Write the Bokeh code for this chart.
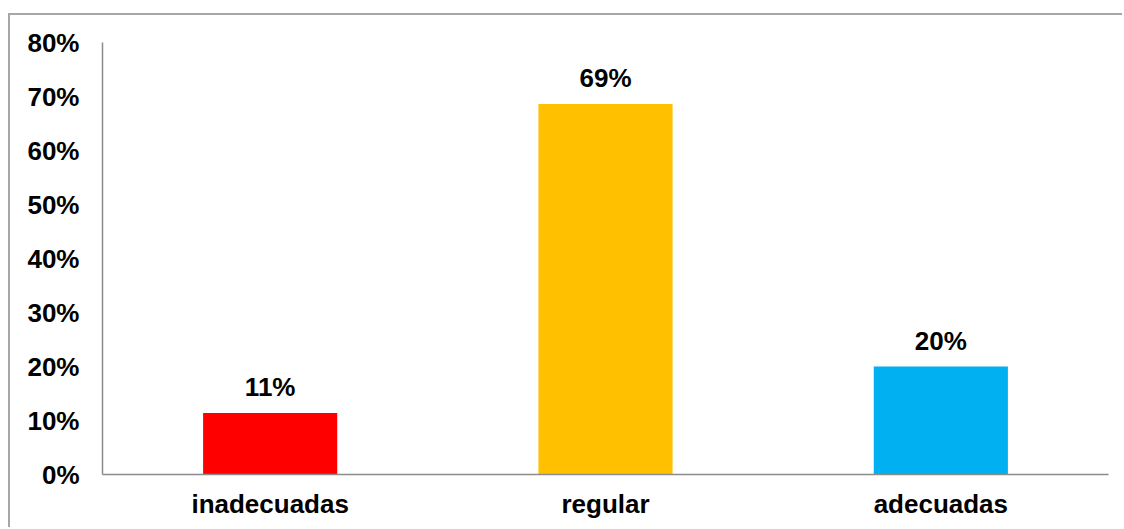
from bokeh.plotting import figure
from bokeh.models import ColumnDataSource, FixedTicker, PrintfTickFormatter
from bokeh.core.properties import value
from bokeh.embed import file_html
from bokeh.resources import INLINE

categories = ["inadecuadas", "regular", "adecuadas"]
values = [11.4, 68.6, 20.0]
labels = ["11%", "69%", "20%"]
colors = ["#FF0000", "#FFC000", "#00B0F0"]
y_ticks = [0, 10, 20, 30, 40, 50, 60, 70, 80]

FONT = "Liberation Sans"

src = ColumnDataSource(dict(cat=categories, val=values, lab=labels, col=colors))

p = figure(
    x_range=categories, y_range=(0, 80),
    width=1114, height=514,
    output_backend="svg", toolbar_location=None,
    min_border_left=92, min_border_right=16, min_border_top=27, min_border_bottom=55,
    margin=(13, 0, 0, 8),
)
p.styles = {"border-top": "2px solid #a6a6a6", "border-left": "2px solid #a6a6a6"}

p.vbar(x="cat", top="val", width=0.4, color="col", source=src, line_color=None)
p.text(x="cat", y="val", text="lab", source=src, text_align="center",
       text_baseline="alphabetic", y_offset=-26,
       text_font=value(FONT), text_font_style="bold", text_font_size="26px",
       text_color="black")

p.outline_line_color = None
p.grid.grid_line_color = None
p.background_fill_color = "white"
p.border_fill_color = "white"

ya = p.yaxis[0]
ya.ticker = FixedTicker(ticks=y_ticks)
ya.formatter = PrintfTickFormatter(format="%d%%")
ya.major_tick_line_color = None
ya.minor_tick_line_color = None
ya.major_tick_out = 0
ya.major_tick_in = 0
ya.major_label_standoff = 23
ya.axis_line_color = "#8c8c8c"
ya.axis_line_width = 1.5
ya.major_label_text_font = FONT
ya.major_label_text_font_style = "bold"
ya.major_label_text_font_size = "26px"
ya.major_label_text_color = "black"

xa = p.xaxis[0]
xa.major_tick_line_color = None
xa.minor_tick_line_color = None
xa.major_tick_out = 0
xa.major_tick_in = 0
xa.major_label_standoff = 14
xa.axis_line_color = "#8c8c8c"
xa.axis_line_width = 1.5
xa.major_label_text_font = FONT
xa.major_label_text_font_style = "bold"
xa.major_label_text_font_size = "26px"
xa.major_label_text_color = "black"

p.x_range.range_padding = 0.0

open("out.html", "w").write(file_html(p, INLINE))
